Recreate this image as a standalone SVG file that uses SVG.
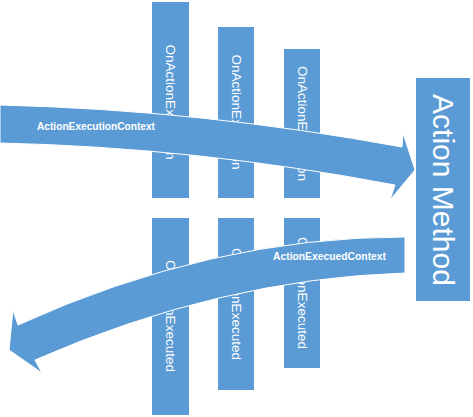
<svg xmlns="http://www.w3.org/2000/svg" width="473" height="417" viewBox="0 0 473 417">
<style>
.bar{fill:#5B9BD5}
.bt{fill:#fff;font-family:"Liberation Sans",Arial,sans-serif;font-size:13.5px;text-anchor:middle;dominant-baseline:central}
.arr{fill:#5B9BD5;stroke:#fff;stroke-width:1}
.lbl{fill:#fff;font-family:"Liberation Sans",Arial,sans-serif;font-size:11.5px;font-weight:bold;dominant-baseline:central}
</style>
<rect width="473" height="417" fill="#fff"/>
<g id="filter-top-1"><rect class="bar" x="152" y="2" width="37" height="196"/><text class="bt" transform="translate(170.5,102) rotate(90)">OnActionExecution</text></g>
<g id="filter-top-2"><rect class="bar" x="218" y="27" width="36" height="171"/><text class="bt" transform="translate(236,112) rotate(90)">OnActionExecution</text></g>
<g id="filter-top-3"><rect class="bar" x="284" y="49" width="36" height="149"/><text class="bt" transform="translate(302,123.5) rotate(90)">OnActionExecution</text></g>
<g id="filter-bottom-1"><rect class="bar" x="152" y="218" width="37" height="197"/><text class="bt" transform="translate(170.5,316) rotate(90)">OnActionExecuted</text></g>
<g id="filter-bottom-2"><rect class="bar" x="218" y="218" width="36" height="172"/><text class="bt" transform="translate(236,304) rotate(90)">OnActionExecuted</text></g>
<g id="filter-bottom-3"><rect class="bar" x="284" y="218" width="36" height="150"/><text class="bt" transform="translate(302,293) rotate(90)">OnActionExecuted</text></g>
<g id="action-method"><rect class="bar" x="416" y="78" width="54" height="223"/><text transform="translate(443,190) rotate(90)" fill="#fff" font-family="Liberation Sans, Arial, sans-serif" font-size="30" text-anchor="middle" dominant-baseline="central">Action Method</text></g>
<g id="connectors">
<g id="executing-arrow"><path class="arr" d="M0,105 Q201,110 402,147 L403,133 L415,170 L390,200 L395,185 Q197.5,147.5 0,143 Z"/><text class="lbl" x="37" y="126" textLength="118" lengthAdjust="spacingAndGlyphs">ActionExecutionContext</text></g>
<g id="executed-arrow"><path class="arr" d="M405,237 Q211.5,236.8 18,325 L13,310 L9,350 L42,373 L35,360 Q220,278.9 405,273 Z"/><text class="lbl" x="273" y="256" textLength="113" lengthAdjust="spacingAndGlyphs">ActionExecuedContext</text></g>
</g>
</svg>
